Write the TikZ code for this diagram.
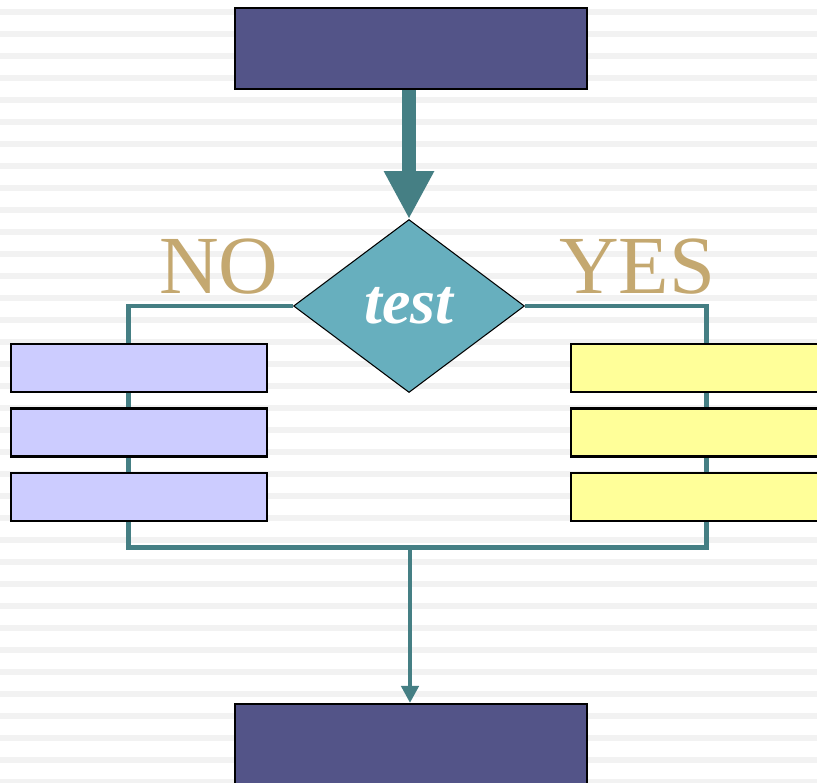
\documentclass[tikz,border=0pt]{standalone}
\usepackage{fontspec}
\setmainfont{Liberation Serif}
\usepackage{tikz}
\usepackage{xcolor}
\usetikzlibrary{positioning,arrows.meta,shapes.geometric}
\definecolor{slate}{HTML}{535488}
\definecolor{nofill}{HTML}{CCCCFF}
\definecolor{yesfill}{HTML}{FFFF99}
\definecolor{testfill}{HTML}{67AFBE}
\definecolor{wire}{HTML}{457F84}
\definecolor{tan}{HTML}{C4A870}
\definecolor{stripe}{HTML}{F2F2F2}
\pgfdeclarelayer{stripes}
\pgfdeclarelayer{wires}
\pgfsetlayers{stripes,wires,main}

\begin{document}
\begin{tikzpicture}[x=0.02cm,y=-0.02cm]
    \tikzstyle{block}=[rectangle,draw=black,line width=1.2pt,fill=slate,minimum width=7.04cm,minimum height=1.62cm,inner sep=0pt];
    \tikzstyle{bar}=[rectangle,draw=black,line width=1.2pt,minimum width=5.12cm,minimum height=0.96cm,inner sep=0pt];
    \tikzstyle{cond}=[diamond,draw=black,line width=0.6pt,fill=testfill,minimum width=4.62cm,minimum height=3.46cm,inner sep=0pt,
                      text=white,font=\fontsize{36.5}{40}\selectfont\bfseries\itshape];
    \tikzstyle{answer}=[text=tan,font=\fontsize{47}{52}\selectfont,inner sep=0pt,anchor=base];
    \tikzstyle{flow}=[wire,line width=0.095cm];
    \clip (0,0) rectangle (817,782);
    % --- background stripes ---
    \begin{pgfonlayer}{stripes}
      \fill[white] (0,0) rectangle (817,782);
      \foreach \s in {0,...,35}
        \fill[stripe] (0,9+22*\s) rectangle (817,15+22*\s);
    \end{pgfonlayer}
    % --- top and bottom blocks ---
    \node[block] (start) at (411,48.5) {};
    \node[block] (stop)  at (411,744.5) {};
    % --- decision ---
    \node[cond]  (test)  at (409,306) {test};
    \node[answer] (no)  at (219,293) {NO};
    \node[answer] (yes) at (637,293) {YES};
    % --- NO branch ---
    \node[bar,fill=nofill] (no1) at (139,368) {};
    \node[bar,fill=nofill] (no2) at (139,432.5) {};
    \node[bar,fill=nofill] (no3) at (139,497) {};
    % --- YES branch ---
    \node[bar,fill=yesfill] (yes1) at (699,368) {};
    \node[bar,fill=yesfill] (yes2) at (699,432.5) {};
    \node[bar,fill=yesfill] (yes3) at (699,497) {};
    % --- connectors ---
    \coordinate (nocorner)  at (128.5,547.5);
    \coordinate (yescorner) at (706.5,547.5);
    \coordinate (merge)     at (410,547.5);
    \begin{pgfonlayer}{wires}
      \draw[flow,line width=0.28cm,-{Triangle[width=0.94cm,length=0.96cm]}] (start.south -| test.north) -- (test.north);
      \draw[flow] (test.west) -| (nocorner) -- (yescorner) |- (test.east);
      \draw[flow,-{Triangle[width=0.34cm,length=0.34cm]}] (merge) -- (merge |- stop.north);
    \end{pgfonlayer}
\end{tikzpicture}
\end{document}
